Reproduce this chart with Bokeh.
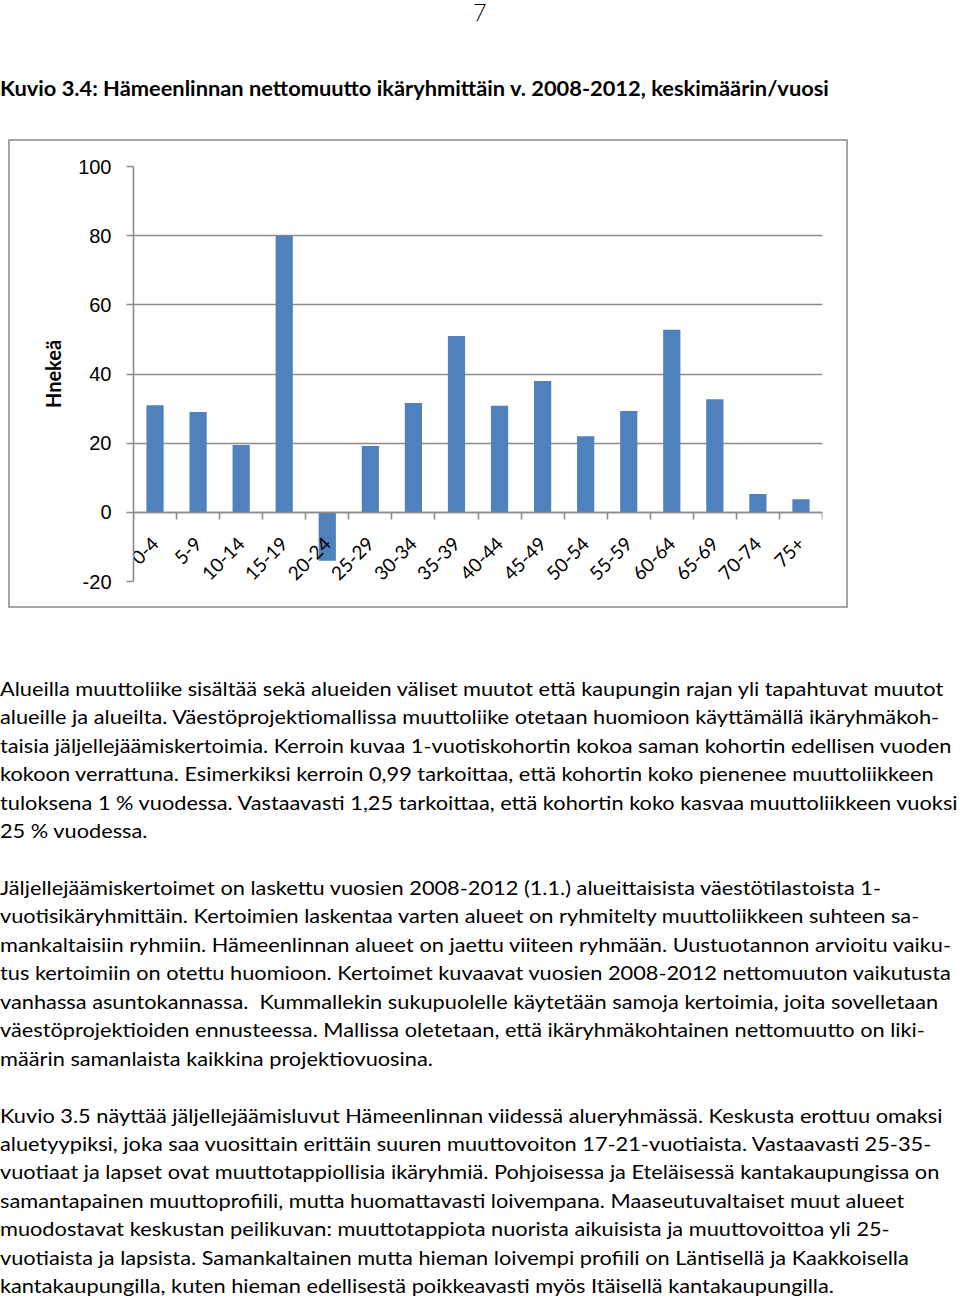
from math import pi
from bokeh.plotting import figure
from bokeh.models import (Div, Range1d, LinearAxis, FixedTicker, Grid)
from bokeh.layouts import column
from bokeh.embed import file_html
from bokeh.resources import INLINE

# ---------------- data ----------------
age_groups = ["0-4", "5-9", "10-14", "15-19", "20-24", "25-29", "30-34", "35-39",
              "40-44", "45-49", "50-54", "55-59", "60-64", "65-69", "70-74", "75+"]
net_migration = [31, 29, 19.5, 80, -14, 19.2, 31.6, 51, 30.8, 38, 22, 29.3, 52.8, 32.7, 5.3, 3.8]
y_ticks = [-20, 0, 20, 40, 60, 80, 100]
y_tick_labels = ["-20", "0", "20", "40", "60", "80", "100"]
y_label = "Hnekeä"

page_number = "7"
title = "Kuvio 3.4: Hämeenlinnan nettomuutto ikäryhmittäin v. 2008-2012, keskimäärin/vuosi"

paragraphs = [
    ["Alueilla muuttoliike sisältää sekä alueiden väliset muutot että kaupungin rajan yli tapahtuvat muutot",
     "alueille ja alueilta. Väestöprojektiomallissa muuttoliike otetaan huomioon käyttämällä ikäryhmäkoh-",
     "taisia jäljellejäämiskertoimia. Kerroin kuvaa 1-vuotiskohortin kokoa saman kohortin edellisen vuoden",
     "kokoon verrattuna. Esimerkiksi kerroin 0,99 tarkoittaa, että kohortin koko pienenee muuttoliikkeen",
     "tuloksena 1 % vuodessa. Vastaavasti 1,25 tarkoittaa, että kohortin koko kasvaa muuttoliikkeen vuoksi",
     "25 % vuodessa."],
    ["Jäljellejäämiskertoimet on laskettu vuosien 2008-2012 (1.1.) alueittaisista väestötilastoista 1-",
     "vuotisikäryhmittäin. Kertoimien laskentaa varten alueet on ryhmitelty muuttoliikkeen suhteen sa-",
     "mankaltaisiin ryhmiin. Hämeenlinnan alueet on jaettu viiteen ryhmään. Uustuotannon arvioitu vaiku-",
     "tus kertoimiin on otettu huomioon. Kertoimet kuvaavat vuosien 2008-2012 nettomuuton vaikutusta",
     "vanhassa asuntokannassa.&nbsp; Kummallekin sukupuolelle käytetään samoja kertoimia, joita sovelletaan",
     "väestöprojektioiden ennusteessa. Mallissa oletetaan, että ikäryhmäkohtainen nettomuutto on liki-",
     "määrin samanlaista kaikkina projektiovuosina."],
    ["Kuvio 3.5 näyttää jäljellejäämisluvut Hämeenlinnan viidessä alueryhmässä. Keskusta erottuu omaksi",
     "aluetyypiksi, joka saa vuosittain erittäin suuren muuttovoiton 17-21-vuotiaista. Vastaavasti 25-35-",
     "vuotiaat ja lapset ovat muuttotappiollisia ikäryhmiä. Pohjoisessa ja Eteläisessä kantakaupungissa on",
     "samantapainen muuttoprofiili, mutta huomattavasti loivempana. Maaseutuvaltaiset muut alueet",
     "muodostavat keskustan peilikuvan: muuttotappiota nuorista aikuisista ja muuttovoittoa yli 25-",
     "vuotiaista ja lapsista. Samankaltainen mutta hieman loivempi profiili on Läntisellä ja Kaakkoisella",
     "kantakaupungilla, kuten hieman edellisestä poikkeavasti myös Itäisellä kantakaupungilla."],
]

FONT = "Lato"
GRAY = "#8c8c8c"
BAR = "#4f81bd"
SX = 1.088

# ---------------- header ----------------
header = Div(width=960, height=139, margin=(0, 0, 0, 0), text=f"""
<div style="position:relative;width:960px;height:139px;font-family:{FONT};color:#000">
  <div style="position:absolute;left:0;top:0;width:960px;text-align:center;font-size:23px;line-height:24px;font-weight:300">{page_number}</div>
  <div style="position:absolute;left:0;top:76px;font-weight:bold;font-size:20px;line-height:24px;white-space:nowrap;transform:scaleX(1.092);transform-origin:0 0">{title}</div>
</div>""")

# ---------------- chart ----------------
n = len(age_groups)
centers = [i + 0.5 for i in range(n)]
edges = list(range(n + 1))

p = figure(x_range=Range1d(0, n), y_range=Range1d(y_ticks[0], y_ticks[-1]),
           width=840, height=469, output_backend="svg", toolbar_location=None,
           x_axis_location=None, y_axis_location=None,
           min_border_left=125, min_border_right=26, min_border_top=27, min_border_bottom=27,
           margin=(0, 0, 0, 8), background_fill_color="white", border_fill_color=None)
p.outline_line_color = None
p.styles = {"box-shadow": "inset 0 0 0 2px #a6a6a6", "background-color": "white"}
for g in p.grid:
    g.visible = False

p.add_layout(Grid(dimension=1, ticker=FixedTicker(ticks=y_ticks),
                  grid_line_color=GRAY, grid_line_width=1.6))

p.vbar(x=centers, top=net_migration, bottom=0, width=0.4,
       fill_color=BAR, line_color=None)

yaxis = LinearAxis(ticker=FixedTicker(ticks=y_ticks), axis_label=y_label,
                   major_label_overrides={t: s for t, s in zip(y_ticks, y_tick_labels)},
                   axis_label_text_font=FONT, axis_label_text_font_style="bold",
                   axis_label_text_font_size="20px", axis_label_standoff=10,
                   axis_label_text_color="#000",
                   major_label_text_font="Liberation Sans", major_label_text_font_size="20px",
                   major_label_text_color="#000", major_label_standoff=15,
                   major_tick_out=7, major_tick_in=0, minor_tick_out=0, minor_tick_in=0,
                   axis_line_color=GRAY, axis_line_width=1.6,
                   major_tick_line_color=GRAY, major_tick_line_width=1.6)
p.add_layout(yaxis, "left")

# category axis on the zero line: labels at centres, ticks at category boundaries
xaxis = LinearAxis(ticker=FixedTicker(ticks=centers, minor_ticks=edges), fixed_location=0,
                   major_label_overrides={c: g for c, g in zip(centers, age_groups)},
                   major_label_orientation=pi / 4,
                   major_label_text_font=FONT, major_label_text_font_size="19px",
                   major_label_text_color="#000", major_label_standoff=21,
                   major_tick_line_color=None, major_tick_out=0, major_tick_in=0,
                   minor_tick_out=7, minor_tick_in=0,
                   minor_tick_line_color=GRAY, minor_tick_line_width=1.6,
                   axis_line_color=GRAY, axis_line_width=1.6)
p.add_layout(xaxis, "below")

# ---------------- body text ----------------
LH = 28.45
rows = []
idx = 0
for para in paragraphs:
    for line in para:
        top = 80 + idx * LH - LH / 2
        rows.append(f'<div style="position:absolute;left:0;top:{top:.1f}px;height:{LH}px;line-height:{LH}px;'
                    f'white-space:nowrap;font-size:20px;transform:scaleX({SX});transform-origin:0 0">{line}</div>')
        idx += 1
    idx += 1
body = Div(width=960, height=690, margin=(0, 0, 0, 0), text=f"""
<div style="position:relative;width:960px;height:690px;font-family:{FONT};color:#000">
{''.join(rows)}
</div>""")

layout = column(header, p, body, spacing=0)
open("out.html", "w").write(file_html(layout, INLINE))
